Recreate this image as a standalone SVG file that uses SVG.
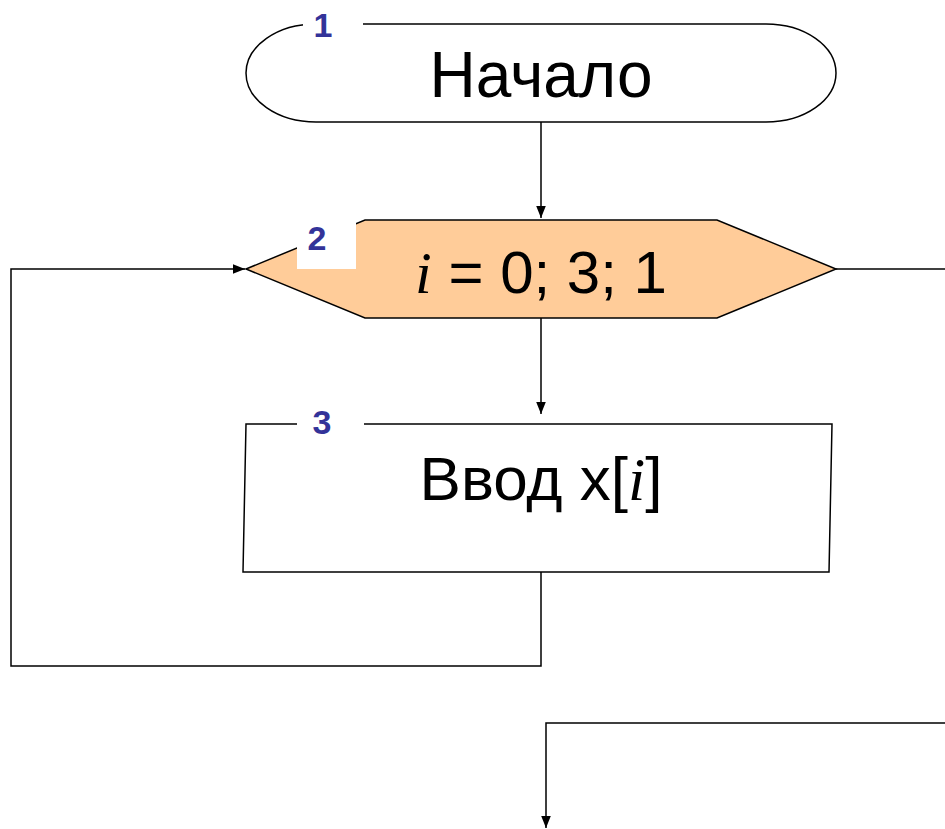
<svg xmlns="http://www.w3.org/2000/svg" width="945" height="829" viewBox="0 0 945 829">
<style>
.ln{fill:none;stroke:#000;stroke-width:1.5}
.t{font-family:"Liberation Sans",Arial,sans-serif;fill:#000;text-anchor:middle}
.it{font-family:"Liberation Serif","Times New Roman",serif;font-style:italic}
.num{font-family:"Liberation Sans",Arial,sans-serif;font-weight:bold;font-size:34px;fill:#333399;text-anchor:middle}
</style>
<defs>
<marker id="ah" viewBox="0 0 10 10" refX="10" refY="5" markerWidth="12" markerHeight="12" markerUnits="userSpaceOnUse" orient="auto">
<path d="M0,1 L10,5 L0,9 Z" fill="#000"/>
</marker>
</defs>
<rect width="945" height="829" fill="#fff"/>
<g id="connectors">
<path class="ln" d="M541,122 V218" marker-end="url(#ah)"/>
<path class="ln" d="M541,318 V414" marker-end="url(#ah)"/>
<path class="ln" d="M541,572 V666 H11 V269 H245" marker-end="url(#ah)"/>
<path class="ln" d="M836,269 H945"/>
<path class="ln" d="M945,723 H546 V828" marker-end="url(#ah)"/>
</g>
<g id="node1">
<rect x="246" y="24" width="590" height="98" rx="70" ry="49" fill="#fff" stroke="#000" stroke-width="1.5"/>
<rect x="303" y="14" width="60" height="20" fill="#fff"/>
<text class="num" x="323" y="37">1</text>
<text class="t" x="541" y="97" font-size="64">Начало</text>
</g>
<g id="node2">
<polygon points="246,269 365,220 717,220 836,269 717,318 365,318" fill="#FFCC99" stroke="#000" stroke-width="1.5"/>
<rect x="297" y="219" width="59" height="50" fill="#fff"/>
<text class="num" x="317" y="250">2</text>
<text class="t" x="541" y="293" font-size="60"><tspan class="it">i</tspan> = 0; 3; 1</text>
</g>
<g id="node3">
<polygon points="246,424 832,424 829,572 243,572" fill="#fff" stroke="#000" stroke-width="1.5"/>
<rect x="297" y="412" width="67" height="20" fill="#fff"/>
<text class="num" x="322" y="434">3</text>
<text class="t" x="541" y="500" font-size="62">Ввод x[<tspan class="it">i</tspan>]</text>
</g>
</svg>
